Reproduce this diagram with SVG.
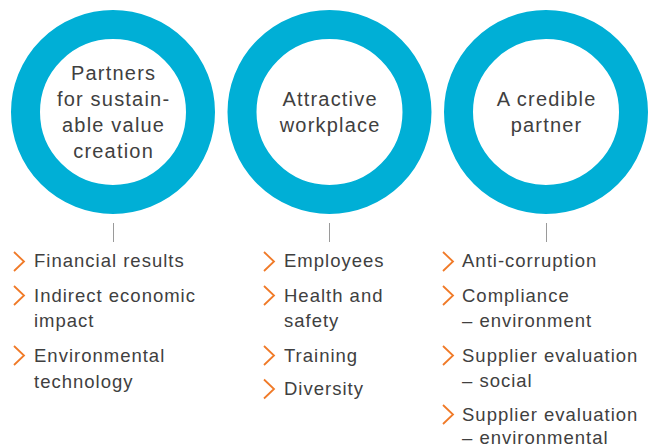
<svg xmlns="http://www.w3.org/2000/svg" width="651" height="448" viewBox="0 0 651 448">
<style>
.ring{fill:none;stroke:#00afd6;stroke-width:29}
.ct{font-family:"Liberation Sans",Arial,sans-serif;font-size:20px;letter-spacing:1.2px;fill:#404040;text-anchor:middle}
.it{font-family:"Liberation Sans",Arial,sans-serif;font-size:18.5px;letter-spacing:1px;fill:#404040}
.chev{fill:none;stroke:#f07a28;stroke-width:1.8}
.tick{stroke:#9a9a9a;stroke-width:1}
</style>
<defs>
<path id="ch" class="chev" d="M0,-9.5 L10,0 L0,9.5"/>
</defs>
<g id="node-partners">
<circle class="ring" cx="113" cy="112" r="87.5"/>
<text class="ct" x="113.6" y="80">Partners</text>
<text class="ct" x="113.6" y="106">for sustain-</text>
<text class="ct" x="113.6" y="132">able value</text>
<text class="ct" x="113.6" y="158">creation</text>
</g>
<g id="node-workplace">
<circle class="ring" cx="329.5" cy="112" r="87.5"/>
<text class="ct" x="330.1" y="106">Attractive</text>
<text class="ct" x="330.1" y="132">workplace</text>
</g>
<g id="node-credible">
<circle class="ring" cx="546" cy="112" r="87.5"/>
<text class="ct" x="546.6" y="106">A credible</text>
<text class="ct" x="546.6" y="132">partner</text>
</g>
<g id="connectors">
<line class="tick" x1="113.5" y1="223" x2="113.5" y2="242"/>
<line class="tick" x1="329.5" y1="223" x2="329.5" y2="242"/>
<line class="tick" x1="546.5" y1="223" x2="546.5" y2="242"/>
</g>
<g id="list-partners">
<use href="#ch" x="14" y="261.5"/>
<text class="it" x="34" y="267">Financial results</text>
<use href="#ch" x="14" y="295.5"/>
<text class="it" x="34" y="301.5">Indirect economic</text>
<text class="it" x="34" y="327">impact</text>
<use href="#ch" x="14" y="355.5"/>
<text class="it" x="34" y="361.5">Environmental</text>
<text class="it" x="34" y="387.5">technology</text>
</g>
<g id="list-workplace">
<use href="#ch" x="264" y="261.5"/>
<text class="it" x="284" y="267">Employees</text>
<use href="#ch" x="264" y="295.5"/>
<text class="it" x="284" y="301.5">Health and</text>
<text class="it" x="284" y="327">safety</text>
<use href="#ch" x="264" y="355.5"/>
<text class="it" x="284" y="361.5">Training</text>
<use href="#ch" x="264" y="389"/>
<text class="it" x="284" y="395">Diversity</text>
</g>
<g id="list-credible">
<use href="#ch" x="443" y="261.5"/>
<text class="it" x="462" y="267">Anti-corruption</text>
<use href="#ch" x="443" y="295.5"/>
<text class="it" x="462" y="301.5">Compliance</text>
<text class="it" x="462" y="327">– environment</text>
<use href="#ch" x="443" y="355.5"/>
<text class="it" x="462" y="361.5">Supplier evaluation</text>
<text class="it" x="462" y="387">– social</text>
<use href="#ch" x="443" y="414.5"/>
<text class="it" x="462" y="420.5">Supplier evaluation</text>
<text class="it" x="462" y="444">– environmental</text>
</g>
</svg>
